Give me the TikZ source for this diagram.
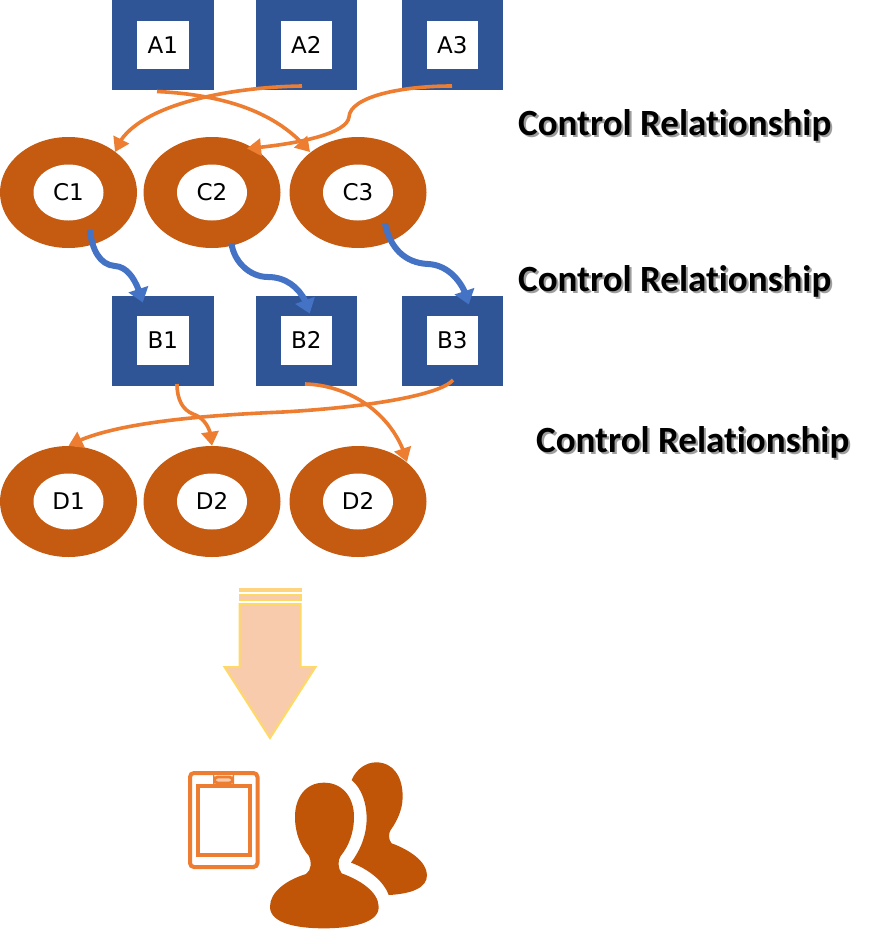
\documentclass[tikz,border=0pt]{standalone}
\usepackage{fontspec}
\setmainfont{DejaVu Sans}
\newfontfamily\labelfont{Carlito}[Ligatures=NoCommon,BoldFont={Carlito Bold},BoldFeatures={Ligatures=NoCommon}]
\usetikzlibrary{shapes.geometric,arrows.meta,bending}
\definecolor{boxblue}{HTML}{2F5597}
\definecolor{ringor}{HTML}{C55A11}
\definecolor{linkor}{HTML}{ED7D31}
\definecolor{linkbl}{HTML}{4472C4}
\definecolor{arrowfill}{HTML}{F8CBAD}
\definecolor{arrowline}{HTML}{FFD966}
\definecolor{barfill}{HTML}{FFD47F}
\definecolor{person}{HTML}{C05508}
\newcommand{\shadowed}[1]{\makebox[0pt][l]{\kern2.2pt\raisebox{-2.8pt}{\textcolor{black!38}{#1}}}#1}
\tikzset{
  x=1pt,y=-1pt,
  sqouter/.style={rectangle,fill=boxblue,minimum width=101.5pt,minimum height=90pt,inner sep=0pt},
  sqinner/.style={rectangle,fill=white,minimum width=51.5pt,minimum height=48.5pt,inner sep=0pt,text height=16.8pt,text depth=0pt,font=\fontsize{23}{25}\selectfont},
  ringouter/.style={ellipse,fill=ringor,minimum width=137pt,minimum height=111pt,inner sep=0pt},
  ringinner/.style={ellipse,fill=white,minimum width=70pt,minimum height=56pt,inner sep=0pt,text height=16.8pt,text depth=0pt,font=\fontsize{23}{25}\selectfont},
  orangelink/.style={draw=linkor,line width=3.6pt,-{Triangle[length=14pt,width=17pt,flex=1]}},
  bluelink/.style={draw=linkbl,line width=6pt,-{Triangle[length=14pt,width=20pt,flex=1]}},
  heading/.style={anchor=base west,inner sep=0pt,font=\labelfont\bfseries\fontsize{37}{39}\selectfont},
  tabletline/.style={draw=linkor,line width=4pt},
  personfill/.style={fill=person,draw=none},
}
\begin{document}
\begin{tikzpicture}
\useasboundingbox[fill=white] (0,0) rectangle (879,932);

% top squares
\node[sqouter] (A1o) at (162.75,45) {};
\node[sqouter] (A2o) at (306.25,45) {};
\node[sqouter] (A3o) at (452.25,45) {};
\node[sqinner] (A1) at (162.75,45) {A1};
\node[sqinner] (A2) at (306.25,45) {A2};
\node[sqinner] (A3) at (452.25,45) {A3};

% C rings
\node[ringouter] (C1o) at (68.5,192.5) {};
\node[ringouter] (C2o) at (212,192.5) {};
\node[ringouter] (C3o) at (358,192.5) {};
\node[ringinner] (C1) at (68.5,192.5) {C1};
\node[ringinner] (C2) at (212,192.5) {C2};
\node[ringinner] (C3) at (358,192.5) {C3};

% B squares
\node[sqouter] (B1o) at (162.75,340.5) {};
\node[sqouter] (B2o) at (306.25,340.5) {};
\node[sqouter] (B3o) at (452.25,340.5) {};
\node[sqinner] (B1) at (162.75,340.5) {B1};
\node[sqinner] (B2) at (306.25,340.5) {B2};
\node[sqinner] (B3) at (452.25,340.5) {B3};

% D rings
\node[ringouter] (D1o) at (68.5,501.5) {};
\node[ringouter] (D2o) at (212,501.5) {};
\node[ringouter] (D3o) at (358,501.5) {};
\node[ringinner] (D1) at (68.5,501.5) {D1};
\node[ringinner] (D2) at (212,501.5) {D2};
\node[ringinner] (D3) at (358,501.5) {D2};

% A -> C links
\draw[orangelink] ([shift={(-5.75,46.5)}]A1o.center) .. controls (230,95) and (280,115) .. ([shift={(-48,-40.5)}]C3o.center);
\draw[orangelink] ([shift={(-4.25,41)}]A2o.center) .. controls (230,87) and (130,105) .. ([shift={(46.5,-40.5)}]C1o.center);
\draw[orangelink] ([shift={(-0.25,41)}]A3o.center) .. controls (400,86) and (350,97) .. (349,117) .. controls (347,135) and (290,145) .. ([shift={(35,-44)}]C2o.center);

% C -> B links
\draw[bluelink] ([shift={(21.5,37.5)}]C1o.center) .. controls (92,250) and (100,265) .. (115,266) .. controls (130,267) and (138,285) .. ([shift={(-20,-38)}]B1o.center);
\draw[bluelink] ([shift={(19.5,51)}]C2o.center) .. controls (234,262) and (250,277) .. (268,277) .. controls (290,277) and (305,293) .. ([shift={(3.5,-27)}]B2o.center);
\draw[bluelink] ([shift={(27,31)}]C3o.center) .. controls (390,248) and (405,263) .. (428,264) .. controls (450,265) and (465,285) .. ([shift={(16.5,-36)}]B3o.center);

% B -> D links
\draw[orangelink] ([shift={(14.25,43.5)}]B1o.center) .. controls (177,400) and (183,410) .. (193,414) .. controls (205,418) and (212,430) .. (D2o.north);
\draw[orangelink] ([shift={(0.75,39.5)}]B3o.center) .. controls (440,395) and (370,407) .. (283,412) .. controls (210,415) and (110,422) .. (D1o.north);
\draw[orangelink] ([shift={(-1.25,43.5)}]B2o.center) .. controls (350,385) and (395,415) .. ([shift={(49,-39.5)}]D3o.center);

% headings
\node[heading] (h1) at (518,135) {\shadowed{Control Relationship}};
\node[heading] (h2) at (518,291) {\shadowed{Control Relationship}};
\node[heading] (h3) at (536,452) {\shadowed{Control Relationship}};

% big arrow
\fill[barfill] (238.5,588) rectangle (301.5,592.3);
\draw[arrowline,line width=1.5pt,fill=arrowfill] (239.25,594.5) rectangle (300.75,600.5);
\draw[arrowline,line width=2pt,fill=arrowfill,line join=miter] (239.5,604) -- (300.5,604) -- (300.5,667) -- (315.5,667) -- (270,738) -- (224.5,667) -- (239.5,667) -- cycle;

% tablet
\draw[tabletline,rounded corners=4pt] (190,773) rectangle (257.5,867);
\draw[tabletline] (198,786) rectangle (249.5,855);
\draw[linkor,line width=2.8pt,fill=arrowfill,rounded corners=3.2pt] (214.4,777) rectangle (232.6,783);

% people
\begin{scope}[shift={(170pt,-570pt)},x=.33333pt,y=-.33333pt]
\fill[personfill] (545,630) .. controls (560,595) and (590,577) .. (618,577) .. controls (670,577) and (698,620) .. (698,680) .. controls (698,720) and (680,755) .. (662,780) .. controls (655,790) and (655,810) .. (665,820) .. controls (720,840) and (770,875) .. (771,915) .. controls (772,955) and (720,972) .. (656,975) .. controls (640,930) and (590,895) .. (543,878) .. controls (575,835) and (590,790) .. (590,745) .. controls (590,700) and (575,655) .. (545,630) -- cycle;
\fill[personfill] (462,638) .. controls (520,638) and (552,685) .. (552,740) .. controls (552,790) and (535,830) .. (512,858) .. controls (503,870) and (503,895) .. (515,910) .. controls (570,930) and (625,965) .. (626,1010) .. controls (628,1060) and (540,1075) .. (462,1075) .. controls (380,1075) and (300,1060) .. (300,1010) .. controls (300,965) and (350,930) .. (408,912) .. controls (425,900) and (425,875) .. (417,858) .. controls (392,830) and (375,790) .. (375,740) .. controls (375,685) and (405,638) .. (462,638) -- cycle;
\end{scope}
\end{tikzpicture}
\end{document}
